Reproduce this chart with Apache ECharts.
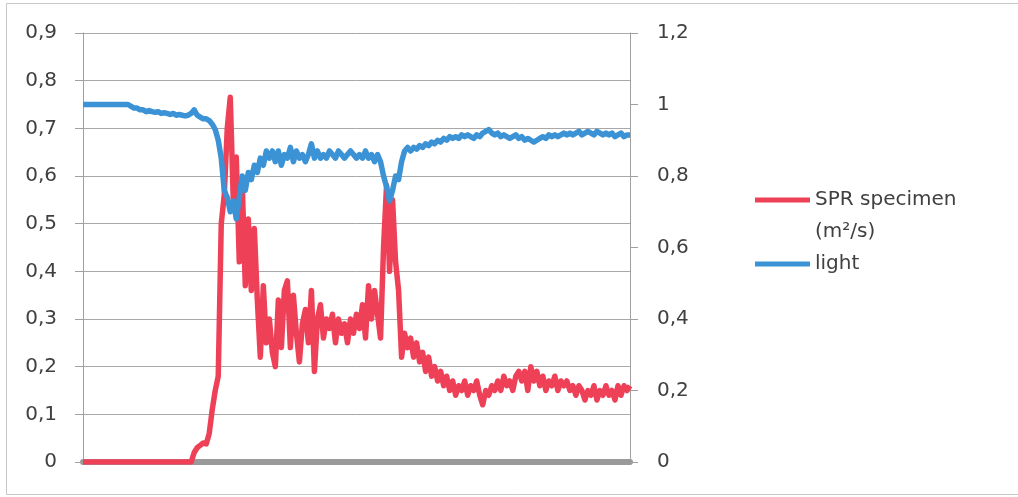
<!DOCTYPE html>
<html>
<head>
<meta charset="utf-8">
<script src="https://cdn.jsdelivr.net/npm/echarts@6/dist/echarts.min.js"></script>
<style>html,body{margin:0;padding:0;background:#fff}#c{width:1018px;height:497px}</style>
</head>
<body>
<div id="c"></div>
<script>
// sample index (time steps)
const sampleCount = 183;
const categories = Array.from({length: sampleCount}, (_, i) => String(i));

// SPR specimen (m²/s) — left axis
const sprValues = [
0,0,0,0,0,0,0,0,0,0,
0,0,0,0,0,0,0,0,0,0,
0,0,0,0,0,0,0,0,0,0,
0,0,0,0,0,0,0,0.02,0.03,0.035,
0.04,0.038,0.06,0.11,0.15,0.18,0.5,0.56,0.70,0.765,
0.55,0.64,0.42,0.58,0.37,0.51,0.36,0.49,0.34,0.22,
0.37,0.25,0.30,0.23,0.20,0.34,0.24,0.36,0.38,0.24,
0.35,0.27,0.21,0.29,0.32,0.25,0.36,0.19,0.30,0.33,
0.26,0.30,0.28,0.31,0.25,0.30,0.27,0.29,0.25,0.30,
0.27,0.31,0.28,0.33,0.26,0.37,0.30,0.36,0.31,0.26,
0.45,0.58,0.40,0.55,0.42,0.36,0.22,0.27,0.24,0.26,
0.22,0.25,0.21,0.23,0.19,0.22,0.18,0.20,0.17,0.19,
0.16,0.18,0.15,0.17,0.14,0.16,0.15,0.17,0.14,0.16,
0.15,0.17,0.14,0.12,0.15,0.14,0.16,0.15,0.17,0.15,
0.18,0.16,0.17,0.15,0.18,0.19,0.17,0.19,0.15,0.20,
0.17,0.19,0.16,0.18,0.15,0.17,0.16,0.18,0.15,0.17,
0.16,0.17,0.15,0.16,0.14,0.16,0.15,0.13,0.15,0.14,
0.16,0.13,0.15,0.14,0.16,0.14,0.15,0.13,0.16,0.14,
0.16,0.15,0.16
];

// light — right axis
const lightValues = [
1.0,1.0,1.0,1.0,1.0,1.0,1.0,1.0,1.0,1.0,
1.0,1.0,1.0,1.0,1.0,1.0,0.995,0.99,0.99,0.985,
0.985,0.98,0.983,0.98,0.978,0.98,0.975,0.977,0.975,0.972,
0.975,0.97,0.972,0.97,0.968,0.97,0.975,0.985,0.97,0.965,
0.96,0.96,0.955,0.945,0.93,0.90,0.85,0.76,0.74,0.70,
0.73,0.68,0.74,0.80,0.76,0.81,0.79,0.83,0.81,0.85,
0.83,0.87,0.85,0.87,0.84,0.87,0.83,0.86,0.85,0.88,
0.84,0.87,0.85,0.86,0.84,0.86,0.89,0.85,0.87,0.85,
0.86,0.85,0.87,0.86,0.85,0.87,0.86,0.85,0.86,0.87,
0.86,0.85,0.86,0.85,0.87,0.85,0.86,0.84,0.86,0.84,
0.80,0.77,0.73,0.76,0.80,0.79,0.84,0.87,0.88,0.87,
0.88,0.875,0.885,0.88,0.89,0.885,0.895,0.89,0.90,0.895,
0.905,0.90,0.91,0.905,0.91,0.905,0.915,0.91,0.915,0.91,
0.905,0.915,0.91,0.92,0.925,0.93,0.92,0.915,0.92,0.91,
0.915,0.91,0.905,0.91,0.915,0.905,0.91,0.90,0.905,0.90,
0.895,0.90,0.905,0.91,0.905,0.915,0.91,0.915,0.91,0.915,
0.92,0.915,0.92,0.915,0.92,0.925,0.915,0.92,0.925,0.92,
0.915,0.925,0.92,0.915,0.92,0.915,0.92,0.91,0.915,0.92,
0.91,0.915,0.915
];

const leftTicks = {min: 0, max: 0.9, interval: 0.1};
const rightTicks = {min: 0, max: 1.2, interval: 0.2};

const FONT = 'DejaVu Sans';
const TXT = '#404040';
const RED = '#ee4158';
const BLUE = '#3b93d6';
const fmt = v => String(Math.round(v * 10) / 10).replace('.', ',');

const chart = echarts.init(document.getElementById('c'), null, {renderer: 'canvas'});
chart.setOption({
  animation: false,
  backgroundColor: '#fff',
  textStyle: {fontFamily: FONT},
  graphic: [{
    type: 'rect', silent: true, z: -10,
    shape: {x: 6.5, y: 3.5, width: 1040, height: 491},
    style: {fill: 'none', stroke: '#c8c8c8', lineWidth: 1}
  }],
  grid: {left: 83, right: 388, top: 33, bottom: 35, containLabel: false},
  legend: [{
    left: 755, top: 184, orient: 'vertical', padding: 0,
    icon: 'path://M0,0H55V5H0Z M0,37L0.001,37L0,37Z', itemWidth: 55, itemHeight: 37,
    data: ['SPR specimen\n(m²/s)'],
    textStyle: {fontFamily: FONT, fontSize: 20, color: TXT, lineHeight: 32}
  }, {
    left: 755, top: 248, orient: 'vertical', padding: 0,
    icon: 'rect', itemWidth: 55, itemHeight: 5,
    data: ['light'],
    textStyle: {fontFamily: FONT, fontSize: 20, color: TXT, lineHeight: 32}
  }],
  xAxis: {
    type: 'category', data: categories, boundaryGap: false,
    axisLine: {show: true, lineStyle: {color: '#9a9a9a', width: 6}},
    axisTick: {show: false}, axisLabel: {show: false}, splitLine: {show: false}
  },
  yAxis: [{
    type: 'value', position: 'left',
    min: leftTicks.min, max: leftTicks.max, interval: leftTicks.interval,
    axisLine: {show: true, lineStyle: {color: '#a0a0a0', width: 1}},
    axisTick: {show: true, inside: false, length: 8, lineStyle: {color: '#a0a0a0'}},
    axisLabel: {formatter: fmt, margin: 26, fontSize: 20, color: TXT, fontFamily: FONT},
    splitLine: {show: true, lineStyle: {color: '#a8a8a8', width: 1}}
  }, {
    type: 'value', position: 'right',
    min: rightTicks.min, max: rightTicks.max, interval: rightTicks.interval,
    axisLine: {show: true, lineStyle: {color: '#a0a0a0', width: 1}},
    axisTick: {show: true, inside: false, length: 8, lineStyle: {color: '#a0a0a0'}},
    axisLabel: {formatter: fmt, margin: 27, fontSize: 20, color: TXT, fontFamily: FONT},
    splitLine: {show: false}
  }],
  series: [{
    name: 'SPR specimen\n(m²/s)', type: 'line', yAxisIndex: 0,
    data: sprValues, showSymbol: false, symbol: 'none',
    lineStyle: {color: RED, width: 5.5, join: 'round'},
    itemStyle: {color: RED}, z: 3
  }, {
    name: 'light', type: 'line', yAxisIndex: 1,
    data: lightValues, showSymbol: false, symbol: 'none',
    lineStyle: {color: BLUE, width: 5.5, join: 'round'},
    itemStyle: {color: BLUE}, z: 4
  }]
});
</script>
</body>
</html>
